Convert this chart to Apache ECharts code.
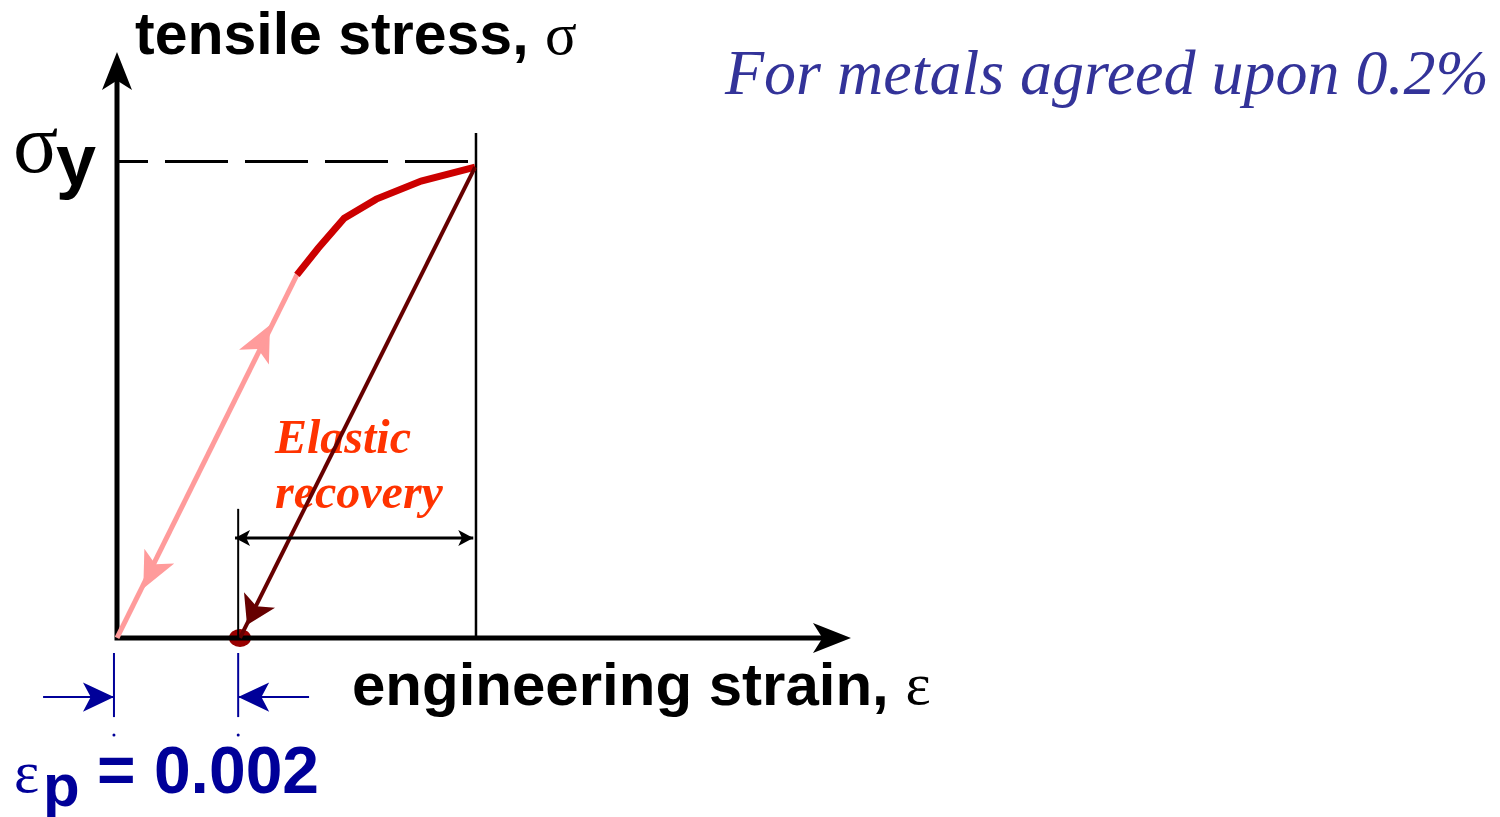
<!DOCTYPE html>
<html>
<head>
<meta charset="utf-8">
<title>0.2% offset yield</title>
<script src="https://cdn.jsdelivr.net/npm/echarts@6/dist/echarts.min.js"></script>
<style>
  html, body { margin: 0; padding: 0; background: #fff; }
  #panel { width: 1500px; height: 817px; }
</style>
</head>
<body>
<div id="panel"></div>
<script>
  // strain in units of 0.001, stress as a fraction of sigma_y
  const axesPath = [[0, 1.19], [0, 0], [11.8, 0]];
  const axisTips = [[0, 1.23], [12.114, 0]];
  const loadPath = [[0, 0], [2.97, 0.762]];
  const plasticPath = [[2.97, 0.762], [3.32, 0.818], [3.75, 0.881], [4.28, 0.921], [5.02, 0.959], [5.91, 0.988]];
  const unloadPath = [[5.91, 0.988], [2.03, 0]];
  const yieldLevel = [[0, 1], [5.83, 1]];
  const peakStrain = [[5.925, 1.06], [5.925, 0]];
  const offsetStrain = [[2, 0.271], [2, 0]];
  const recoverySpan = [[1.948, 0.21], [5.88, 0.21]];
  const offsetPoint = [[2.03, 0]];
  // arrow tips sitting on the load / unload lines
  const loadArrows = [[2.525, 0.657], [0.434, 0.104]];
  const unloadArrow = [[2.146, 0.027]];
  // offset marker drawn under the strain axis
  const markLeft = [[-0.05, -0.0315], [-0.05, -0.166]];
  const markRight = [[2, -0.0315], [2, -0.166]];
  const pointInLeft = [[-1.22, -0.124], [-0.05, -0.124]];
  const pointInRight = [[3.17, -0.124], [2, -0.124]];
  const markDots = [[-0.05, -0.2036], [2, -0.2036]];

  const sans = '"Liberation Sans", Arial, sans-serif';
  const serif = '"Liberation Serif", "Times New Roman", serif';

  function plainLine(data, color, width, dash, offset) {
    return {
      type: 'line', data: data, symbol: 'none', clip: false, silent: true,
      lineStyle: { color: color, width: width, type: dash || 'solid', dashOffset: offset || 0, cap: 'butt', join: 'miter' }
    };
  }

  // arrow heads drawn as rotated scatter symbols
  function heads(points, rotates, color, size) {
    return {
      type: 'scatter', clip: false, silent: true, symbol: 'arrow', symbolSize: size,
      itemStyle: { color: color, opacity: 1 },
      data: points.map((p, i) => ({ value: p, symbolRotate: rotates[i] }))
    };
  }

  function label(text, x, y, font, fill) {
    return {
      type: 'text', z: 1, silent: true,
      style: { x: x, y: y, verticalAlign: 'middle', align: 'left', text: text, font: font, fill: fill }
    };
  }

  let panel = echarts.init(document.getElementById('panel'));
  let option = {
    animation: false,
    backgroundColor: '#fff',
    grid: { left: 0, right: 0, top: 0, bottom: 0 },
    xAxis: { type: 'value', min: -1.931, max: 22.826, show: false },
    yAxis: { type: 'value', min: -0.3757, max: 1.3389, show: false },
    graphic: {
      elements: [
        {
          type: 'text', z: 1, silent: true,
          style: {
            x: 135, y: 38, verticalAlign: 'middle', align: 'left',
            text: 'tensile stress, {g|σ}', font: 'bold 59px ' + sans, fill: '#000',
            rich: { g: { fontFamily: serif, fontWeight: 'normal', fontSize: 59, fill: '#000' } }
          }
        },
        label('σ', 13, 150, '84px ' + serif, '#000'),
        label('y', 56, 165, 'bold 72px ' + sans, '#000'),
        {
          type: 'text', z: 1, silent: true,
          style: {
            x: 352, y: 688, verticalAlign: 'middle', align: 'left',
            text: 'engineering strain, {g|ε}', font: 'bold 60px ' + sans, fill: '#000',
            rich: { g: { fontFamily: serif, fontWeight: 'normal', fontSize: 60, fill: '#000' } }
          }
        },
        label('ε', 14, 776, '60px ' + serif, '#000099'),
        label('p', 43, 789, 'bold 60px ' + sans, '#000099'),
        label('= 0.002', 97, 775, 'bold 66px ' + sans, '#000099'),
        label('For metals agreed upon 0.2%', 725, 77, 'italic 64px ' + serif, '#333399'),
        label('Elastic', 275, 441, 'italic bold 48px ' + serif, '#ff3300'),
        label('recovery', 275, 496, 'italic bold 48px ' + serif, '#ff3300')
      ]
    },
    series: [
      plainLine(yieldLevel, '#000', 3, [63, 17], 32),
      plainLine(peakStrain, '#000', 2.5),
      plainLine(axesPath, '#000', 5),
      heads(axisTips, [0, -90], '#000', [22.5, 38]),
      plainLine(loadPath, '#ff9b9b', 5),
      plainLine(plasticPath, '#cc0000', 7),
      plainLine(unloadPath, '#660000', 4),
      heads(loadArrows, [-26.4, 153.6], '#ff9b9b', [25, 36]),
      heads(unloadArrow, [153.5], '#660000', [26, 28]),
      plainLine(offsetStrain, '#000', 2),
      plainLine(recoverySpan, '#000', 3),
      heads(recoverySpan, [90, -90], '#000', [12, 15]),
      {
        type: 'scatter', clip: false, silent: true, symbol: 'circle', symbolSize: [22, 18],
        itemStyle: { color: '#990000', opacity: 1 },
        data: offsetPoint
      },
      plainLine(markLeft, '#000099', 2),
      plainLine(markRight, '#000099', 2),
      plainLine(pointInLeft, '#000099', 2),
      plainLine(pointInRight, '#000099', 2),
      heads([pointInLeft[1], pointInRight[1]], [-90, 90], '#000099', [22, 31]),
      {
        type: 'scatter', clip: false, silent: true, symbol: 'circle', symbolSize: 3,
        itemStyle: { color: '#000099', opacity: 1 },
        data: markDots
      }
    ]
  };
  panel.setOption(option, true);

  window.addEventListener('resize', () => {
    panel.resize();
  });
</script>
</body>
</html>
